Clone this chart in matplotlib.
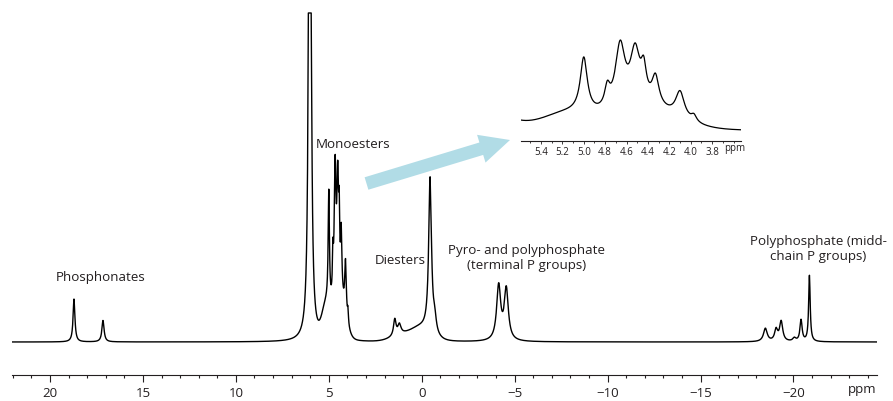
import numpy as np
import matplotlib
matplotlib.use("Agg")
import matplotlib.pyplot as plt
from matplotlib.patches import FancyArrow
from matplotlib.ticker import MultipleLocator

plt.rcParams['font.family'] = ['Open Sans', 'DejaVu Sans']

# --- peak table (ppm, height, half-width) ---
# Lorentzian lines
peak_ppm = [18.71, 17.15,
            6.02,
            5.00, 4.78, 4.66, 4.52, 4.44, 4.33, 4.10, 3.97,
            1.45, 1.20, -0.45, -0.70,
            -4.14, -4.55,
            -18.49, -19.07, -19.34, -20.05, -20.41, -20.86]
peak_height = [0.13, 0.065,
               3.0,
               0.34, 0.12, 0.39, 0.33, 0.18, 0.18, 0.165, 0.04,
               0.05, 0.03, 0.47, 0.04,
               0.165, 0.155,
               0.04, 0.035, 0.06, 0.01, 0.065, 0.20]
peak_width = [0.06, 0.07,
              0.057,
              0.04, 0.03, 0.055, 0.055, 0.03, 0.04, 0.05, 0.03,
              0.08, 0.10, 0.09, 0.10,
              0.13, 0.13,
              0.12, 0.10, 0.10, 0.10, 0.07, 0.05]
# broad (gaussian) humps under the clusters
hump_ppm = [5.15, 4.45, 1.0, 0.0]
hump_height = [0.09, 0.13, 0.02, 0.035]
hump_sigma = [0.22, 0.30, 0.60, 0.50]

main_ticks = [20, 15, 10, 5, 0, -5, -10, -15, -20]
inset_ticks = [5.4, 5.2, 5.0, 4.8, 4.6, 4.4, 4.2, 4.0, 3.8]

labels = [
    ("Phosphonates", 101, 278),
    ("Monoesters", 353, 145),
    ("Diesters", 400, 260),
    ("Pyro- and polyphosphate\n(terminal P groups)", 527, 258),
    ("Polyphosphate (midd-\nchain P groups)", 818, 249),
]

TEXT = '#231f20'


def spectrum(x):
    y = np.zeros_like(x)
    for c, h, g in zip(peak_ppm, peak_height, peak_width):
        y += h / (1 + ((x - c) / g) ** 2)
    for c, h, s in zip(hump_ppm, hump_height, hump_sigma):
        y += h * np.exp(-(x - c) ** 2 / (2 * s ** 2))
    return y


W, H = 893, 401
fig = plt.figure(figsize=(W / 100, H / 100), dpi=100)

# main spectrum
ax = fig.add_axes([12.3 / W, (H - 375) / H, (876.7 - 12.3) / W, 363 / H])
x = np.arange(-24.6, 22.1, 0.004)
y = np.minimum(spectrum(x), 0.997)
ax.plot(x, y, color='black', lw=1.0)
ax.set_xlim(22.03, -24.48)
ax.set_ylim(-0.1, 1.0)
for s in ['top', 'left', 'right']:
    ax.spines[s].set_visible(False)
ax.spines['bottom'].set_color(TEXT)
ax.spines['bottom'].set_linewidth(0.8)
ax.set_yticks([])
ax.set_xticks(main_ticks)
ax.set_xticklabels([f"{t}".replace('-', '\u2212') for t in main_ticks])
ax.xaxis.set_minor_locator(MultipleLocator(1))
ax.tick_params(axis='x', which='major', length=5, width=0.8, color=TEXT,
               labelsize=9.5, labelcolor=TEXT, pad=3.5)
ax.tick_params(axis='x', which='minor', length=2.5, width=0.8, color=TEXT)
ax.patch.set_alpha(0)

# inset (monoester region)
axi = fig.add_axes([521 / W, (H - 141) / H, 220 / W, 106 / H])
xi = np.arange(3.5, 5.62, 0.002)
axi.plot(xi, spectrum(xi), color='black', lw=0.9)
axi.set_xlim(5.587, 3.53)
axi.set_ylim(-0.0625, 0.6)
for s in ['top', 'left', 'right']:
    axi.spines[s].set_visible(False)
axi.spines['bottom'].set_color(TEXT)
axi.spines['bottom'].set_linewidth(0.8)
axi.set_yticks([])
axi.set_xticks(inset_ticks)
axi.set_xticklabels([f"{t:.1f}" for t in inset_ticks])
axi.xaxis.set_minor_locator(MultipleLocator(0.1))
axi.tick_params(axis='x', which='major', length=2.5, width=0.6, color=TEXT,
                labelsize=7, labelcolor=TEXT, pad=1.5)
axi.tick_params(axis='x', which='minor', length=1.5, width=0.6, color=TEXT)
axi.patch.set_alpha(0)

# overlay in pixel coordinates for arrow and labels
ov = fig.add_axes([0, 0, 1, 1])
ov.set_xlim(0, W)
ov.set_ylim(H, 0)
ov.axis('off')
ov.patch.set_alpha(0)
ov.add_patch(FancyArrow(366.5, 183.5, 143.5, -43.5, width=13, head_width=29,
                        head_length=30, length_includes_head=True,
                        color='#b1dce6', lw=0))
for txt, lx, ly in labels:
    ov.text(lx, ly, txt, ha='center', va='center', fontsize=9.6, color=TEXT,
            linespacing=1.25)
ov.text(862, 390, "ppm", ha='center', va='center', fontsize=9.5, color=TEXT)
ov.text(735, 148, "ppm", ha='center', va='center', fontsize=7, color=TEXT)

fig.savefig("out.png", dpi=100)
